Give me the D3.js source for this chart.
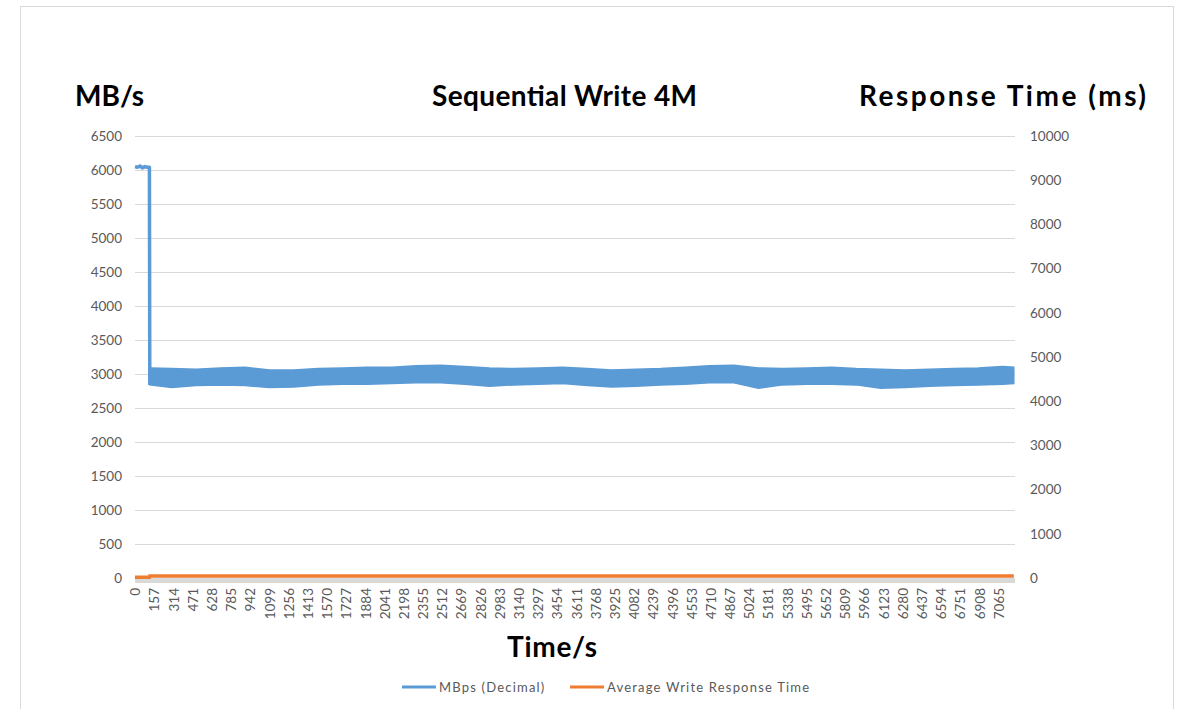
<!DOCTYPE html>
<html>
<head>
<meta charset="utf-8">
<script src="https://cdn.jsdelivr.net/npm/d3@7"></script>
<style>
  body { margin: 0; background: #fff; }
  text { font-family: Lato, "Open Sans", sans-serif; }
  .tick text { fill: #595959; font-size: 13.5px; }
  .big { font-weight: bold; font-size: 28px; fill: #000; }
  .legend text { fill: #595959; font-size: 13px; letter-spacing: 1.2px; }
</style>
</head>
<body>
<div class="chart"></div>
<script>
  // x ticks every 157 s (category labels)
  var tickTimes = d3.range(0, 7066, 157);

  // first part: full-speed write (MB/s)
  var initTime = [0, 20, 40, 60, 80, 100, 118];
  var initMBps = [6050, 6040, 6060, 6030, 6050, 6040, 6040];

  // steady-state band (upper / lower envelope, MB/s)
  var bandTime = [121, 300, 500, 700, 900, 1100, 1300, 1500, 1700, 1900, 2100, 2300, 2500, 2700, 2900, 3100, 3300, 3500, 3700, 3900, 4100, 4300, 4500, 4700, 4900, 5100, 5300, 5500, 5700, 5900, 6100, 6300, 6500, 6700, 6900, 7100, 7190];
  var bandUpper = [3090, 3080, 3070, 3090, 3100, 3060, 3060, 3080, 3090, 3100, 3100, 3120, 3130, 3110, 3090, 3080, 3090, 3100, 3080, 3060, 3070, 3080, 3100, 3120, 3130, 3090, 3080, 3090, 3100, 3080, 3070, 3060, 3070, 3080, 3090, 3110, 3100];
  var bandLower = [2840, 2800, 2830, 2840, 2830, 2800, 2810, 2840, 2850, 2850, 2860, 2870, 2870, 2850, 2820, 2840, 2850, 2860, 2830, 2810, 2820, 2840, 2850, 2870, 2870, 2790, 2840, 2850, 2850, 2840, 2790, 2800, 2820, 2830, 2840, 2850, 2860];

  // average write response time (ms)
  var respTime = [0, 118, 121, 7190];
  var respMs = [15, 15, 48, 48];

  var leftTicks = d3.range(0, 6501, 500);
  var rightTicks = d3.range(0, 10001, 1000);

  var W = 1178, H = 709;
  var plot = {left: 135, right: 1015, top: 136, bottom: 578};

  var svg = d3.select(".chart").append("svg")
    .attr("width", W)
    .attr("height", H);

  // chart border
  svg.append("rect")
    .attr("x", 20.5).attr("y", 6.5)
    .attr("width", 1153).attr("height", 720)
    .attr("fill", "none")
    .attr("stroke", "#d9d9d9");

  var x = d3.scaleLinear().domain([0, 7200]).range([plot.left, plot.right]);
  var y = d3.scaleLinear().domain([0, 6500]).range([plot.bottom, plot.top]);
  var y2 = d3.scaleLinear().domain([0, 10000]).range([plot.bottom, plot.top]);

  // gridlines
  svg.append("g")
    .selectAll("line")
    .data(leftTicks)
    .enter()
    .append("line")
    .attr("x1", plot.left).attr("x2", plot.right)
    .attr("y1", function(d) { return y(d) + 0.5; })
    .attr("y2", function(d) { return y(d) + 0.5; })
    .attr("stroke", "#d9d9d9");

  // left axis
  var yAxis = svg.append("g")
    .attr("transform", "translate(" + (plot.left - 13) + ",0)")
    .call(d3.axisLeft(y).tickValues(leftTicks).tickFormat(d3.format("d")).tickSize(0).tickPadding(0));
  yAxis.select(".domain").remove();

  // right axis
  var y2Axis = svg.append("g")
    .attr("transform", "translate(" + (plot.right + 15) + ",0)")
    .call(d3.axisRight(y2).tickValues(rightTicks).tickFormat(d3.format("d")).tickSize(0).tickPadding(0));
  y2Axis.select(".domain").remove();

  // x axis line (thick grey band) and rotated labels
  svg.append("line")
    .attr("x1", plot.left).attr("x2", plot.right)
    .attr("y1", y(0) + 3).attr("y2", y(0) + 3)
    .attr("stroke", "#d9d9d9")
    .attr("stroke-width", 4);

  var xAxis = svg.append("g")
    .attr("transform", "translate(0," + (plot.bottom + 10) + ")")
    .call(d3.axisBottom(x).tickValues(tickTimes).tickFormat(d3.format("d")).tickSize(0).tickPadding(0));
  xAxis.select(".domain").remove();
  xAxis.selectAll("text")
    .attr("transform", "rotate(-90)")
    .attr("x", 0)
    .attr("y", 0)
    .attr("dy", "0.35em")
    .style("text-anchor", "end");

  var blue = "#5b9bd5", orange = "#ed7d31";

  // response time
  var respPts = respTime.map(function(t, i) { return [t, respMs[i]]; });
  svg.append("path")
    .datum(respPts)
    .attr("fill", "none")
    .attr("stroke", orange)
    .attr("stroke-width", 3.5)
    .attr("d", d3.line()
      .x(function(d) { return x(d[0]); })
      .y(function(d) { return y2(d[1]); }));

  // MBps: initial segment + drop
  var initPts = initTime.map(function(t, i) { return [t, initMBps[i]]; });
  initPts.push([bandTime[0], bandLower[0]]);
  svg.append("path")
    .datum(initPts)
    .attr("fill", "none")
    .attr("stroke", blue)
    .attr("stroke-width", 3.5)
    .attr("stroke-linejoin", "round")
    .attr("d", d3.line()
      .x(function(d) { return x(d[0]); })
      .y(function(d) { return y(d[1]); }));

  // MBps: steady-state band
  var band = bandTime.map(function(t, i) { return {t: t, hi: bandUpper[i], lo: bandLower[i]}; });
  svg.append("path")
    .datum(band)
    .attr("fill", blue)
    .attr("stroke", blue)
    .attr("stroke-width", 1.5)
    .attr("d", d3.area()
      .x(function(d) { return x(d.t); })
      .y0(function(d) { return y(d.lo); })
      .y1(function(d) { return y(d.hi); }));

  // titles
  svg.append("text").attr("class", "big").attr("x", 75).attr("y", 106).text("MB/s");
  svg.append("text").attr("class", "big").attr("x", 432).attr("y", 106)
    .attr("textLength", 265).attr("lengthAdjust", "spacing").text("Sequential Write 4M");
  svg.append("text").attr("class", "big").attr("x", 859).attr("y", 106)
    .attr("textLength", 287).attr("lengthAdjust", "spacing").text("Response Time (ms)");
  svg.append("text").attr("class", "big").attr("x", 507).attr("y", 657)
    .attr("textLength", 90).attr("lengthAdjust", "spacing").text("Time/s");

  // legend
  var legendItems = [
    {name: "MBps (Decimal)", color: blue, x: 402},
    {name: "Average Write Response Time", color: orange, x: 570}
  ];
  var legend = svg.append("g").attr("class", "legend");
  legend.selectAll("line")
    .data(legendItems)
    .enter()
    .append("line")
    .attr("x1", function(d) { return d.x; })
    .attr("x2", function(d) { return d.x + 34; })
    .attr("y1", 687).attr("y2", 687)
    .attr("stroke", function(d) { return d.color; })
    .attr("stroke-width", 3);
  legend.selectAll("text")
    .data(legendItems)
    .enter()
    .append("text")
    .attr("x", function(d) { return d.x + 37; })
    .attr("y", 692)
    .text(function(d) { return d.name; });
</script>
</body>
</html>
